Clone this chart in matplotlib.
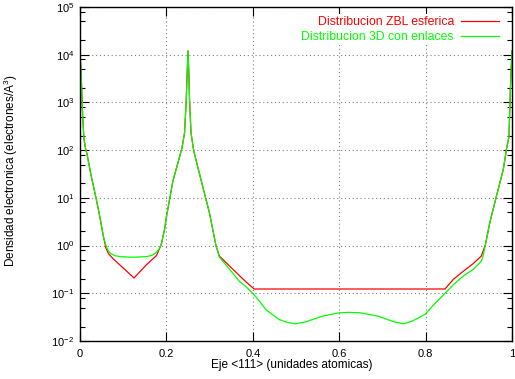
import matplotlib
matplotlib.use("Agg")
import matplotlib.pyplot as plt
from matplotlib.ticker import NullFormatter

plt.rcParams['font.family'] = ['Liberation Sans', 'DejaVu Sans']
plt.rcParams['mathtext.default'] = 'regular'
plt.rcParams['axes.unicode_minus'] = False

# ---- data ----
x_zbl = [0.000, 0.002, 0.004, 0.006, 0.009, 0.013, 0.016, 0.025, 0.037, 0.046,
         0.054, 0.060, 0.066, 0.077, 0.100, 0.125, 0.154, 0.177, 0.188, 0.196,
         0.200, 0.215, 0.228, 0.236, 0.242, 0.246, 0.248, 0.250, 0.252, 0.2535,
         0.257, 0.263, 0.270, 0.284, 0.2995, 0.315, 0.3226, 0.353, 0.384, 0.403,
         0.845, 0.864, 0.887, 0.910, 0.929, 0.9385, 0.9486, 0.9638, 0.9800, 0.987,
         0.993, 0.9962, 1.000]
y_zbl = [12000, 5000, 1780, 562, 178, 105, 85, 31.6, 10.0, 3.98,
         1.58, 0.89, 0.676, 0.525, 0.339, 0.209, 0.398, 0.617, 1.05, 2.24,
         3.98, 22.4, 60.0, 110, 229, 1150, 3980, 12000, 3980, 1150,
         229, 100, 55.0, 17.4, 4.9, 0.977, 0.603, 0.324, 0.174, 0.123,
         0.123, 0.195, 0.288, 0.417, 0.603, 1.05, 3.02, 10.7, 40.0, 102,
         195, 1860, 12000]

x_3d = [0.000, 0.002, 0.004, 0.006, 0.009, 0.013, 0.016, 0.025, 0.037, 0.046,
        0.054, 0.060, 0.065, 0.070, 0.080, 0.095, 0.125, 0.155, 0.168, 0.177,
        0.183, 0.188, 0.196, 0.200, 0.215, 0.228, 0.236, 0.242, 0.246, 0.248,
        0.250, 0.252, 0.2535, 0.257, 0.263, 0.270, 0.284, 0.2995, 0.315, 0.3226,
        0.353, 0.369, 0.384, 0.400, 0.415, 0.430, 0.461, 0.480, 0.499, 0.522,
        0.561, 0.599, 0.622, 0.650, 0.690, 0.728, 0.749, 0.770, 0.799, 0.821,
        0.845, 0.864, 0.887, 0.910, 0.929, 0.9335, 0.9385, 0.9486, 0.9638, 0.9800,
        0.987, 0.993, 0.9962, 1.000]
y_3d = [12000, 5000, 1780, 562, 178, 105, 85, 31.6, 10.0, 3.98,
        1.58, 1.0, 0.794, 0.692, 0.617, 0.582, 0.569, 0.589, 0.631, 0.724,
        0.851, 1.05, 2.24, 3.98, 22.4, 60.0, 110, 229, 1150, 3980,
        12000, 3980, 1150, 229, 100, 55.0, 17.4, 4.9, 0.977, 0.575,
        0.269, 0.178, 0.138, 0.100, 0.0692, 0.0457, 0.0282, 0.0245, 0.0229, 0.0251,
        0.0331, 0.0389, 0.0398, 0.0389, 0.0331, 0.0251, 0.0229, 0.0263, 0.0363, 0.0603,
        0.100, 0.151, 0.229, 0.316, 0.468, 0.631, 1.05, 3.02, 10.7, 40.0,
        102, 195, 1860, 12000]

label_zbl = "Distribucion ZBL esferica"
label_3d = "Distribucion 3D con enlaces"
xticks = [0, 0.2, 0.4, 0.6, 0.8, 1]
xticklabels = ["0", "0.2", "0.4", "0.6", "0.8", "1"]
y_exponents = [-2, -1, 0, 1, 2, 3, 4, 5]
y_minor_subs = [2, 5, 8]

W, H = 515, 379
fig = plt.figure(figsize=(W / 100, H / 100), dpi=100)
ax = fig.add_axes([80 / W, 1 - 341 / H, (512 - 80) / W, (341 - 7) / H])

ax.plot(x_zbl, y_zbl, color='#ff0000', lw=0.9, label=label_zbl)
ax.plot(x_3d, y_3d, color='#00ff00', lw=0.9, label=label_3d)

ax.set_yscale('log')
ax.set_xlim(0, 1)
ax.set_ylim(10.0 ** y_exponents[0], 10.0 ** y_exponents[-1])
ax.set_xticks(xticks)
ax.set_xticklabels(xticklabels)
ax.set_yticks([10.0 ** e for e in y_exponents])
ax.set_yticklabels([r"$10^{%d}$" % e for e in y_exponents])
ax.set_yticks([s * 10.0 ** e for e in y_exponents[:-1] for s in y_minor_subs], minor=True)
ax.yaxis.set_minor_formatter(NullFormatter())

ax.grid(True, which='major', color='#808080', linestyle=(0, (1, 2.5)), linewidth=0.8)
ax.tick_params(which='both', direction='in', top=True, right=True, labelsize=8)
ax.tick_params(which='major', length=6.5, width=0.8)
ax.tick_params(which='minor', length=3.5, width=0.8)
ax.tick_params(axis='y', pad=4)
ax.tick_params(axis='x', pad=6)
for s in ax.spines.values():
    s.set_linewidth(1.0)

fig.text(292 / W, 1 - 365 / H, "Eje <111> (unidades atomicas)", ha='center', va='center', fontsize=8.5)
fig.text(11 / W, 1 - 171 / H, "Densidad electronica (electrones/A$^3$)", ha='center', va='center',
         rotation=90, fontsize=8.5)

leg = ax.legend(loc='upper right', bbox_to_anchor=(501 / W, 1 - 14 / H), bbox_transform=fig.transFigure,
                markerfirst=False, labelcolor='linecolor', frameon=True, fancybox=False,
                edgecolor='none', facecolor='white', framealpha=1, borderpad=0.15,
                handlelength=3.1, handletextpad=0.6, labelspacing=0.3, borderaxespad=0,
                fontsize=8.8)
leg.get_frame().set_linewidth(0)
for h in leg.get_lines():
    h.set_linewidth(0.9)

fig.savefig("out.png", dpi=100)
